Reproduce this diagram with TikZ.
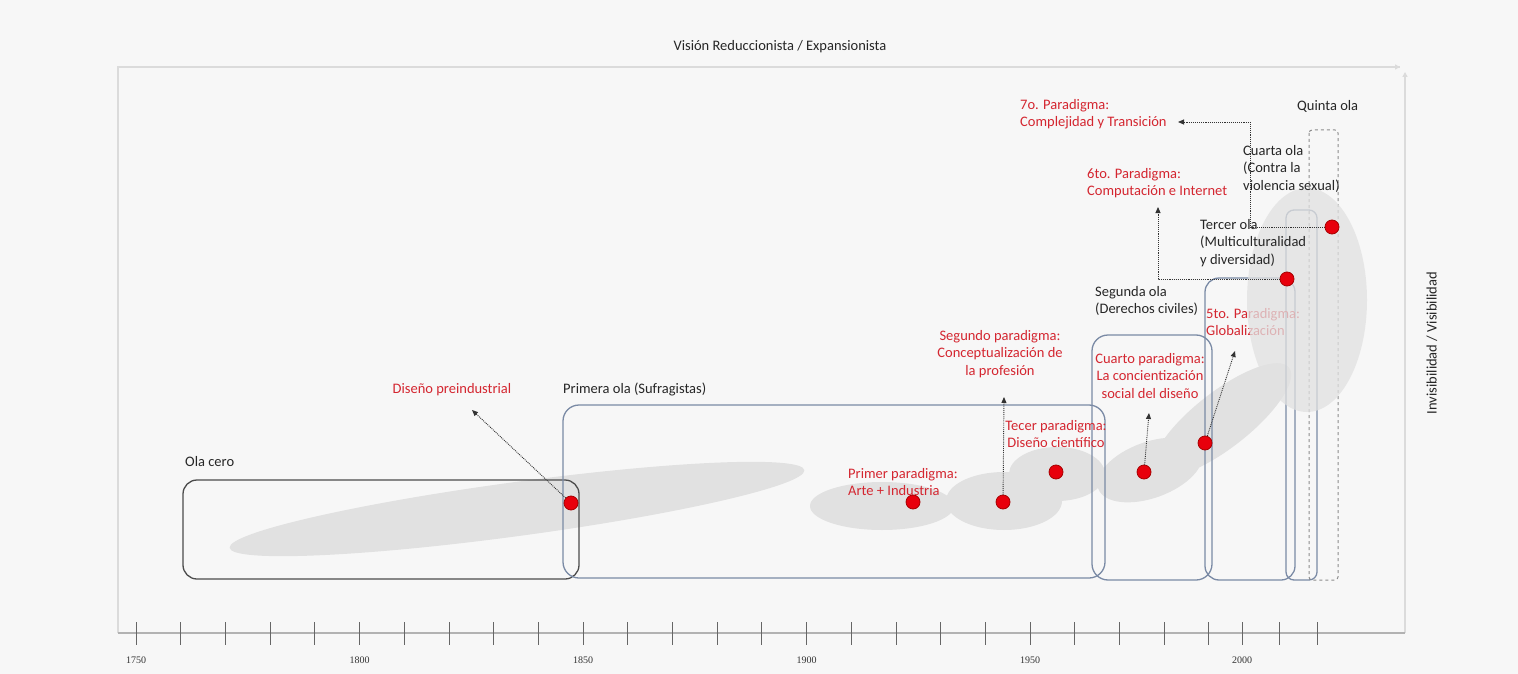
\documentclass[tikz,border=0pt]{standalone}
\usepackage{fontspec}
\setmainfont{Carlito}
\newfontfamily\yearfont{Liberation Serif}
\usetikzlibrary{arrows.meta,calc}
\definecolor{parred}{RGB}{212,38,48}
\definecolor{dotred}{RGB}{232,0,12}
\definecolor{waveblue}{RGB}{122,138,165}
\definecolor{blobgray}{RGB}{225,225,225}

\begin{document}
\begin{tikzpicture}[x=1pt,y=-1pt,
  every node/.style={font=\fontsize{14.5}{17.5}\selectfont, inner sep=0pt},
  lbl/.style={text=black!85, align=left, anchor=north west},
  par/.style={text=parred, align=left, anchor=north west},
  parc/.style={text=parred, align=center, anchor=north},
  dot/.style={circle, fill=dotred, draw=red!65!black, line width=0.8pt, minimum size=14pt},
  blob/.style={fill=blobgray},
  wave/.style={draw=waveblue, line width=1.3pt, rounded corners=16pt},
  conn/.style={densely dotted, line width=0.9pt, black!80, -{Triangle[length=6pt,width=5pt]}},
  frame/.style={draw=black!14, line width=1.5pt},
  tick/.style={draw=black!60, line width=0.8pt},
  year/.style={font=\yearfont\fontsize{10}{12}\selectfont, text=black!80}]
  \fill[black!3] (0,0) rectangle (1518,674);
  \draw[frame] (118,633) -- (118,67) -- (1400,67);
  \draw[frame, -{Triangle[length=5pt,width=5pt]}] (1390,67) -- (1400,67);
  \draw[frame, -{Triangle[length=5pt,width=5pt]}] (1405,633) -- (1405,72);
  % blobs
  \fill[blob, rotate around={7.7:(517,509)}] (517,509) ellipse [x radius=290, y radius=27];
  \fill[blob] (882,506) ellipse [x radius=72, y radius=24];
  \fill[blob] (1004,501) ellipse [x radius=58, y radius=29];
  \fill[blob] (1057,474) ellipse [x radius=48, y radius=27];
  \fill[blob, rotate around={20:(1150,470)}] (1150,470) ellipse [x radius=55, y radius=28];
  \fill[blob, rotate around={38:(1222,420)}] (1222,420) ellipse [x radius=85, y radius=28];
  % waves
  \draw[black!70, line width=1.3pt, rounded corners=14pt] (183,480) rectangle (579,579);
  \draw[wave] (563,405) rectangle (1105,578);
  \draw[wave] (1092,335) rectangle (1212,580);
  \draw[wave, rounded corners=14pt] (1205,278) rectangle (1295,580);
  \draw[wave, rounded corners=8pt] (1286,210) rectangle (1317,580);
  \draw[black!45, dashed, line width=1pt, rounded corners=3pt] (1309,130) rectangle (1338,580);
  % axis
  \draw[black!30, line width=2.5pt] (118,633) -- (1405,633);
  \foreach \k in {0,...,24}
    \draw[tick] ({136+44.7*\k},622) -- ({136+44.7*\k},645);
  \foreach \x in {1242,1279,1317}
    \draw[tick] (\x,622) -- (\x,645);
  \foreach \yr/\x in {1750/136,1800/359.5,1850/583,1900/806.5,1950/1030,2000/1242}
    \node[year] (y\yr) at (\x,660) {\yr};
  \node[text=black!85] (title) at (780,47) {Visión Reduccionista / Expansionista};
  \node[text=black!85, rotate=90] (vis) at (1432,343) {Invisibilidad / Visibilidad};
  \node[lbl] (ola0) at (185,456) {Ola cero};
  \node[lbl] (ola1) at (563,383) {Primera ola (Sufragistas)};
  \node[lbl] (ola2) at (1095,286) {Segunda ola\\(Derechos civiles)};
  \node[lbl] (ola5) at (1297,100) {Quinta ola};
  \node[parc] (pre) at (452,383) {Diseño preindustrial};
  \node[par] (par1) at (848,468) {Primer paradigma:\\Arte + Industria};
  \node[parc] (par2) at (1000,330) {Segundo paradigma:\\Conceptualización de\\la profesión};
  \node[parc] (par3) at (1056,420) {Tecer paradigma:\\Diseño científico};
  \node[parc] (par4) at (1150,353) {Cuarto paradigma:\\La concientización\\social del diseño};
  \node[par] (par5) at (1206,308) {5to. Paradigma:\\Globalización};
  \node[par] (par6) at (1087,168) {6to. Paradigma:\\Computación e Internet};
  \node[par] (par7) at (1020,99) {7o. Paradigma:\\Complejidad y Transición};
  \fill[blob, fill opacity=0.75] (1307,300) ellipse [x radius=60, y radius=112];
  \node[lbl] (ola3) at (1200,219) {Tercer ola\\(Multiculturalidad\\y diversidad)};
  \node[lbl] (ola4) at (1243,145) {Cuarta ola\\(Contra la\\violencia sexual)};
  % paradigms
  \coordinate (t0) at (472,410);
  \coordinate (t2) at (1004,397);
  \coordinate (t4) at (1149,413);
  \coordinate (t5) at (1235,351);
  \coordinate (t6) at (1158,207);
  \coordinate (k7) at (1250,122);
  \coordinate (t7) at (1178,122);
  \node[dot] (d0) at (571,503) {};
  \node[dot] (d1) at (913,502) {};
  \node[dot] (d2) at (1003,502) {};
  \node[dot] (d3) at (1056,472) {};
  \node[dot] (d4) at (1144,472) {};
  \node[dot] (d5) at (1205,443) {};
  \node[dot] (d6) at (1287,279) {};
  \node[dot] (d7) at (1332,227) {};
  \draw[conn] (d0) -- (t0);
  \draw[conn] (d2) -- (t2);
  \draw[conn] (d4) -- (t4);
  \draw[conn] (d5) -- (t5);
  \draw[conn] (d6) -| (t6);
  \draw[conn] (d7) -| (k7) -- (t7);
\end{tikzpicture}
\end{document}
